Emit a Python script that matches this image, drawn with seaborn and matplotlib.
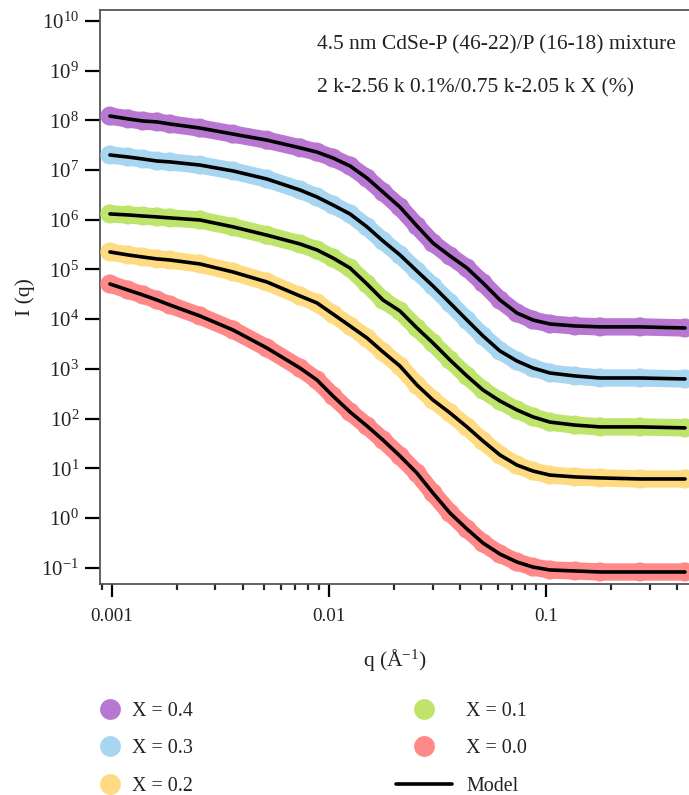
import numpy as np
import pandas as pd
import matplotlib
matplotlib.use("Agg")
import matplotlib.pyplot as plt
import matplotlib.ticker as mticker
from matplotlib.lines import Line2D
import seaborn as sns

# ---------------- data ----------------
q = [0.000979, 0.001185, 0.001389, 0.001612, 0.001850, 0.002544, 0.003611,
     0.005178, 0.007353, 0.008806, 0.01043, 0.01250, 0.01497, 0.01774,
     0.02124, 0.02543, 0.03014, 0.03611, 0.04324, 0.05125, 0.06138,
     0.07350, 0.08712, 0.1043, 0.1360, 0.1774, 0.2711, 0.4370]

I_x04 = [1.22e8, 1.07e8, 9.7e7, 9.3e7, 8.45e7, 7.0e7, 5.3e7, 4.0e7, 2.8e7,
         2.3e7, 1.75e7, 1.21e7, 6.9e6, 3.6e6, 1.8e6, 7.5e5, 3.4e5, 1.87e5,
         1.07e5, 5.35e4, 2.43e4, 1.33e4, 9.6e3, 8.0e3, 7.3e3, 7.0e3, 7.0e3,
         6.65e3]
I_x03 = [2.01e7, 1.83e7, 1.67e7, 1.52e7, 1.46e7, 1.26e7, 9.6e6, 6.6e6,
         3.97e6, 2.87e6, 1.98e6, 1.31e6, 7.2e5, 3.74e5, 1.96e5, 9.3e4,
         4.66e4, 2.12e4, 9.6e3, 4.6e3, 2.29e3, 1.44e3, 1.04e3, 826, 720,
         656, 656, 627]
I_x02 = [2.25e5, 1.96e5, 1.78e5, 1.63e5, 1.55e5, 1.29e5, 8.9e4, 5.6e4,
         2.93e4, 2.12e4, 1.27e4, 7.3e3, 4.19e3, 2.19e3, 1.14e3, 474, 237,
         130, 68, 35.4, 18.5, 11.6, 8.8, 7.3, 6.7, 6.4, 6.1, 6.1]
I_x01 = [1.31e6, 1.25e6, 1.19e6, 1.14e6, 1.09e6, 9.9e5, 7.2e5, 4.9e5,
         3.26e5, 2.47e5, 1.70e5, 1.07e5, 5.1e4, 2.43e4, 1.46e4, 6.65e3,
         3.32e3, 1.51e3, 720, 376, 226, 149, 108, 85, 74, 68, 68, 65]
I_x00 = [5.1e4, 3.86e4, 3.07e4, 2.43e4, 1.93e4, 1.16e4, 6.07e3, 2.63e3,
         1.04e3, 598, 285, 136, 71, 37, 17.7, 8.0, 3.18, 1.26, 0.60, 0.314,
         0.188, 0.130, 0.103, 0.090, 0.086, 0.082, 0.082, 0.082]

series_labels = ["X = 0.4", "X = 0.3", "X = 0.2", "X = 0.1", "X = 0.0"]
series_values = [I_x04, I_x03, I_x02, I_x01, I_x00]
series_colors = ["#b878d2", "#a8d6f0", "#feda80", "#bee46c", "#ff8888"]

x_ticks = [0.001, 0.01, 0.1]
x_tick_labels = ["0.001", "0.01", "0.1"]
y_ticks = [10.0 ** k for k in range(-1, 11)]

title1 = "4.5 nm CdSe-P (46-22)/P (16-18) mixture"
title2 = "2 k-2.56 k 0.1%/0.75 k-2.05 k X (%)"

# ---------------- build table ----------------
rows = []
for lab, vals in zip(series_labels, series_values):
    for qq, ii in zip(q, vals):
        rows.append({"q": qq, "I": ii, "series": lab})
df = pd.DataFrame(rows)
palette = dict(zip(series_labels, series_colors))

# ---------------- style ----------------
sns.set_theme(style="white")
plt.rcParams["font.family"] = ["Liberation Serif", "DejaVu Serif"]
plt.rcParams["mathtext.fontset"] = "custom"
plt.rcParams["mathtext.rm"] = "Liberation Serif"
plt.rcParams["mathtext.it"] = "Liberation Serif:italic"
plt.rcParams["mathtext.bf"] = "Liberation Serif:bold"

TXT = "#222222"
fig = plt.figure(figsize=(6.89, 7.95), dpi=100)
ax = fig.add_axes([100 / 689, 211 / 795, 589 / 689, 574 / 795])

# data band (dense points) and markers
sns.lineplot(data=df, x="q", y="I", hue="series", palette=palette,
             linewidth=12.5, solid_capstyle="round", legend=False, ax=ax,
             sort=False, zorder=2)
sns.scatterplot(data=df, x="q", y="I", hue="series", palette=palette,
                s=190, linewidth=0, legend=False, ax=ax, zorder=3)
# model
sns.lineplot(data=df, x="q", y="I", units="series", estimator=None,
             color="black", linewidth=2.6, legend=False, ax=ax, sort=False,
             zorder=4)

ax.set_xscale("log")
ax.set_yscale("log")
ax.set_xlim(0.000881, 0.456)
ax.set_ylim(0.047, 1.66e10)

ax.xaxis.set_major_locator(mticker.FixedLocator(x_ticks))
ax.xaxis.set_major_formatter(mticker.FixedFormatter(x_tick_labels))
ax.xaxis.set_minor_locator(mticker.LogLocator(base=10, subs=np.arange(2, 10)))
ax.xaxis.set_minor_formatter(mticker.NullFormatter())
ax.yaxis.set_major_locator(mticker.FixedLocator(y_ticks))
ax.yaxis.set_major_formatter(mticker.LogFormatterSciNotation())
ax.yaxis.set_minor_locator(mticker.NullLocator())

ax.tick_params(axis="both", which="major", direction="out", color="black",
               labelcolor=TXT)
ax.tick_params(axis="y", which="major", length=11, width=1.6, pad=4,
               left=True, labelsize=15)
ax.tick_params(axis="x", which="major", length=9, width=1.6, pad=8,
               bottom=True, labelsize=13.7)
ax.tick_params(axis="x", which="minor", length=4.5, width=1.6, bottom=True)

for side in ["left", "top", "bottom"]:
    ax.spines[side].set_color("#555555")
    ax.spines[side].set_linewidth(1.3)
ax.spines["right"].set_visible(False)

ax.set_xlabel("q (Å$^{-1}$)", fontsize=15.5, color=TXT, labelpad=16)
ax.set_ylabel("I (q)", fontsize=15.5, color=TXT, labelpad=4.5)

ax.text(0.368, 0.939, title1, transform=ax.transAxes, fontsize=15.5,
        va="center", ha="left", color=TXT)
ax.text(0.368, 0.864, title2, transform=ax.transAxes, fontsize=15.5,
        va="center", ha="left", color=TXT)

# legends
LFS = 14.4
def circ(c):
    return Line2D([], [], marker="o", linestyle="none", markersize=15,
                  markerfacecolor=c, markeredgewidth=0)

left_h = [circ(c) for c in series_colors[:3]]
right_h = [circ(c) for c in series_colors[3:]] + [
    Line2D([], [], color="black", linewidth=2.6)]

leg1 = fig.legend(left_h, series_labels[:3], loc="upper left",
                  bbox_to_anchor=(100 / 689, 1 - 702 / 795), frameon=False,
                  fontsize=LFS, handlelength=1.0, handletextpad=0.62,
                  labelspacing=0.92, borderpad=0, borderaxespad=0,
                  labelcolor=TXT)
leg2 = fig.legend(right_h, series_labels[3:] + ["Model"], loc="upper left",
                  bbox_to_anchor=(396 / 689, 1 - 702 / 795), frameon=False,
                  fontsize=LFS, handlelength=2.8, handletextpad=0.72,
                  labelspacing=0.92, borderpad=0, borderaxespad=0,
                  labelcolor=TXT)

fig.savefig("out.png", dpi=100)
